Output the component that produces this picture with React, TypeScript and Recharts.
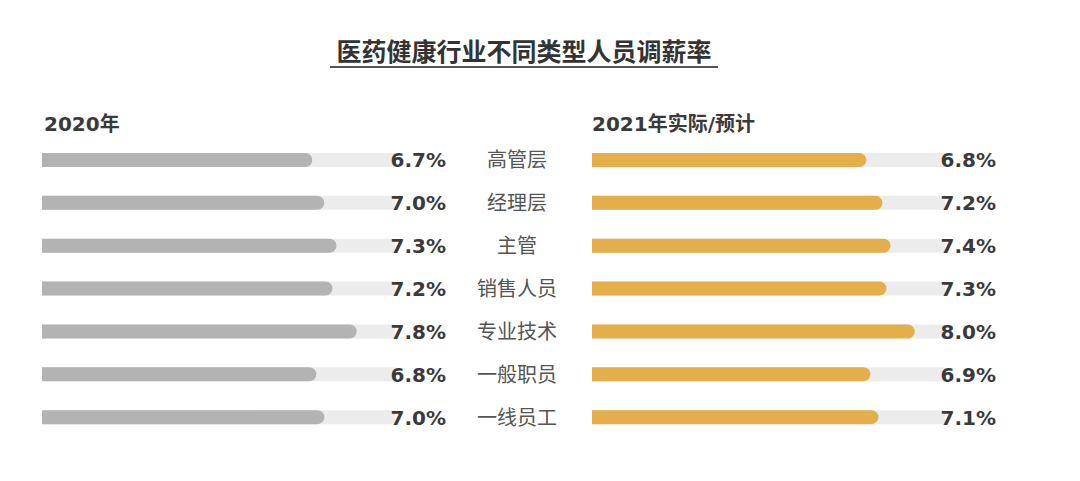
import React from 'react';
import { BarChart, Bar, XAxis, YAxis } from 'recharts';

const categories = ['高管层', '经理层', '主管', '销售人员', '专业技术', '一般职员', '一线员工'];
const rate2020 = [6.7, 7.0, 7.3, 7.2, 7.8, 6.8, 7.0];
const rate2021 = [6.8, 7.2, 7.4, 7.3, 8.0, 6.9, 7.1];

const data = categories.map((name, i) => ({ name, v2020: rate2020[i], v2021: rate2021[i] }));

const FONT = '"Noto Sans CJK SC", "Noto Sans", sans-serif';
const NUM_FONT = '"DejaVu Sans", "Noto Sans CJK SC", sans-serif';
const MAX = 8.75;
const BAR = 14;
const TRACK = '#ececec';

const ValueTick = (props: any) => {
  const { x, y, payload } = props;
  return (
    <text x={x + 51} y={y} dy={7} textAnchor="end" fontSize={20} fontWeight={700} fill="#3a3a3a" fontFamily={NUM_FONT}>
      {Number(payload.value).toFixed(1)}%
    </text>
  );
};

const CategoryTick = (props: any) => {
  const { x, y, payload } = props;
  return (
    <text x={x - 75} y={y} dy={7} textAnchor="middle" fontSize={20} fill="#555" fontFamily={FONT}>
      {payload.value}
    </text>
  );
};

export default function App() {
  const head = { position: 'absolute' as const, top: 110, fontSize: 20, fontWeight: 700, color: '#3a3a3a', lineHeight: '28px', fontFamily: NUM_FONT, whiteSpace: 'nowrap' as const };
  return (
    <div style={{ position: 'absolute', left: 0, top: 0, width: 1080, height: 481, background: '#fff', fontFamily: FONT }}>
      <div
        style={{
          position: 'absolute', left: 330, top: 34, width: 388, textAlign: 'center',
          fontSize: 25, fontWeight: 700, color: '#333', lineHeight: '32px', whiteSpace: 'nowrap',
          borderBottom: '2px solid #555', paddingBottom: 0,
        }}
      >
        医药健康行业不同类型人员调薪率
      </div>
      <div style={{ ...head, left: 44 }}>2020年</div>
      <div style={{ ...head, left: 592 }}>2021年实际/预计</div>

      <div style={{ position: 'absolute', left: 0, top: 0 }}>
        <BarChart width={450} height={481} data={data} layout="vertical" margin={{ top: 139, right: 0, bottom: 42, left: 42 }}>
          <XAxis type="number" domain={[0, MAX]} hide />
          <YAxis type="category" dataKey="name" yAxisId="cat" hide />
          <YAxis
            type="category" dataKey="v2020" yAxisId="val" orientation="right" width={55}
            axisLine={false} tickLine={false} tickSize={0} tickMargin={0} tick={<ValueTick />} interval={0}
          />
          <Bar
            dataKey="v2020" yAxisId="cat" fill="#b3b3b3" barSize={BAR} radius={[0, 7, 7, 0]}
            background={{ fill: TRACK }} isAnimationActive={false}
          />
        </BarChart>
      </div>

      <div style={{ position: 'absolute', left: 452, top: 0 }}>
        <BarChart width={548} height={481} data={data} layout="vertical" margin={{ top: 139, right: 0, bottom: 42, left: 0 }}>
          <XAxis type="number" domain={[0, MAX]} hide />
          <YAxis
            type="category" dataKey="name" yAxisId="cat" width={140}
            axisLine={false} tickLine={false} tickSize={0} tickMargin={0} tick={<CategoryTick />} interval={0}
          />
          <YAxis
            type="category" dataKey="v2021" yAxisId="val" orientation="right" width={55}
            axisLine={false} tickLine={false} tickSize={0} tickMargin={0} tick={<ValueTick />} interval={0}
          />
          <Bar
            dataKey="v2021" yAxisId="cat" fill="#e4ae4a" barSize={BAR} radius={[0, 7, 7, 0]}
            background={{ fill: TRACK }} isAnimationActive={false}
          />
        </BarChart>
      </div>
    </div>
  );
}
